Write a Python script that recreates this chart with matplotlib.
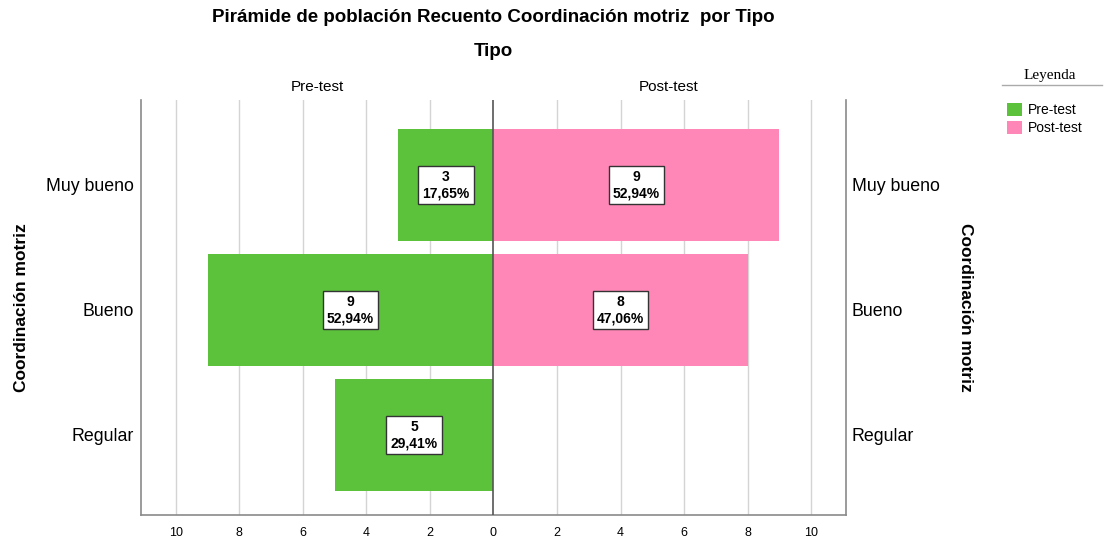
import matplotlib.pyplot as plt
from matplotlib.patches import Patch
from matplotlib.lines import Line2D

# data
categorias = ["Regular", "Bueno", "Muy bueno"]
pre_test = [5, 9, 3]
post_test = [0, 8, 9]
pre_pct = ["29,41%", "52,94%", "17,65%"]
post_pct = ["", "47,06%", "52,94%"]
ticks = [-10, -8, -6, -4, -2, 0, 2, 4, 6, 8, 10]

VERDE = "#5DC23B"
ROSA = "#FF87B7"

plt.rcParams["font.family"] = ["Liberation Sans", "DejaVu Sans"]

fig = plt.figure(figsize=(11.18, 5.38), dpi=100)
ax = fig.add_axes([0.1261, 0.0428, 0.6306, 0.7714])

y = list(range(len(categorias)))
ax.set_xlim(-11.1, 11.1)
ax.set_ylim(-0.64, 2.68)

for t in ticks:
    if t != 0:
        ax.axvline(t, color="#d4d4d4", linewidth=1, zorder=0)

ax.barh(y, [-v for v in pre_test], height=0.89, color=VERDE, zorder=2)
ax.barh(y, post_test, height=0.89, color=ROSA, zorder=2)
ax.axvline(0, color="#555555", linewidth=1.2, zorder=3)

box = dict(boxstyle="square,pad=0.3", facecolor="white", edgecolor="#333333", linewidth=1)
for i in y:
    if pre_test[i]:
        ax.text(-pre_test[i] / 2, i, f"{pre_test[i]}\n{pre_pct[i]}", ha="center", va="center",
                fontsize=10, fontweight="bold", linespacing=1.2, bbox=box, zorder=4)
    if post_test[i]:
        ax.text(post_test[i] / 2, i, f"{post_test[i]}\n{post_pct[i]}", ha="center", va="center",
                fontsize=10, fontweight="bold", linespacing=1.2, bbox=box, zorder=4)

ax.set_xticks(ticks)
ax.set_xticklabels([str(abs(t)) for t in ticks], fontsize=9)
ax.set_yticks(y)
ax.set_yticklabels(categorias, fontsize=12.8)
ax.tick_params(axis="both", length=0)
ax.tick_params(axis="x", pad=9)
ax.tick_params(axis="y", pad=5)

for s in ["left", "right", "bottom"]:
    ax.spines[s].set_color("#8a8a8a")
    ax.spines[s].set_linewidth(1.2)
ax.spines["top"].set_visible(False)

ax.set_ylabel("Coordinación motriz", fontsize=12.5, fontweight="bold", labelpad=12)

ax2 = ax.twinx()
ax2.set_ylim(ax.get_ylim())
ax2.set_yticks(y)
ax2.set_yticklabels(categorias, fontsize=12.8)
ax2.tick_params(axis="y", length=0, pad=4)
for s in ax2.spines.values():
    s.set_visible(False)
ax2.set_ylabel("Coordinación motriz", fontsize=12.5, fontweight="bold", rotation=270, labelpad=24)

# titles
fig.text(493 / 1118, 1 - 18 / 538, "Pirámide de población Recuento Coordinación motriz  por Tipo",
         ha="center", va="center", fontsize=13.5, fontweight="bold")
fig.text(493 / 1118, 1 - 52 / 538, "Tipo", ha="center", va="center", fontsize=13.5, fontweight="bold")
fig.text(317 / 1118, 1 - 87 / 538, "Pre-test", ha="center", va="center", fontsize=11)
fig.text(669 / 1118, 1 - 87 / 538, "Post-test", ha="center", va="center", fontsize=11)

# legend
fig.text(1050 / 1118, 1 - 75 / 538, "Leyenda", ha="center", va="center", fontsize=11,
         family=["Liberation Serif", "DejaVu Serif"])
fig.add_artist(Line2D([1002 / 1118, 1102 / 1118], [1 - 85 / 538, 1 - 85 / 538],
                      color="#aaaaaa", linewidth=1))
handles = [Patch(facecolor=VERDE, label="Pre-test"), Patch(facecolor=ROSA, label="Post-test")]
fig.legend(handles=handles, loc="upper left", bbox_to_anchor=(997 / 1118, 1 - 93 / 538),
           frameon=False, fontsize=10, handlelength=1.1, handleheight=1.1,
           handletextpad=0.4, labelspacing=0.25, borderpad=0.2)

fig.savefig("out.png", dpi=100)
